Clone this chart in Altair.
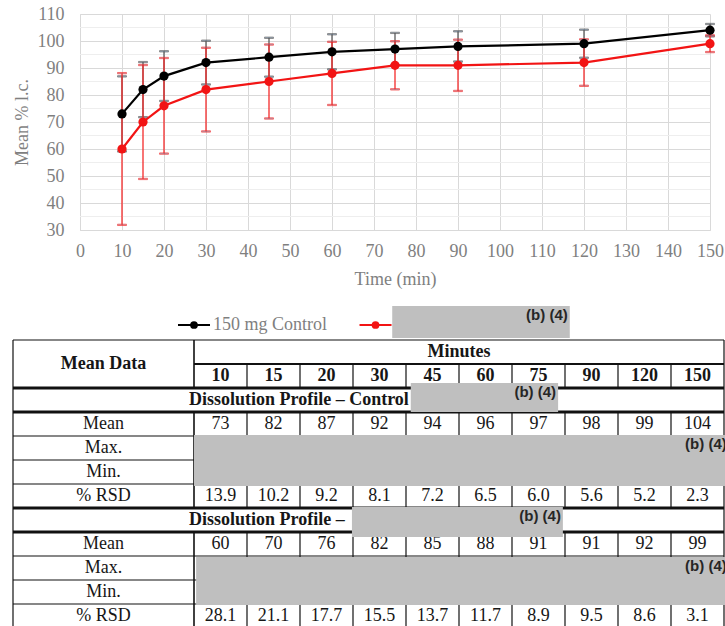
import altair as alt
import pandas as pd

# ---- data -------------------------------------------------------------
times = [10, 15, 20, 30, 45, 60, 75, 90, 120, 150]
series_names = ["150 mg Control", "150 mg Test"]

control_mean = [73, 82, 87, 92, 94, 96, 97, 98, 99, 104]
control_rsd = [13.9, 10.2, 9.2, 8.1, 7.2, 6.5, 6.0, 5.6, 5.2, 2.3]
test_mean = [60, 70, 76, 82, 85, 88, 91, 91, 92, 99]
test_rsd = [28.1, 21.1, 17.7, 15.5, 13.7, 11.7, 8.9, 9.5, 8.6, 3.1]

x_ticks = list(range(0, 151, 10))
y_ticks = list(range(30, 111, 10))
y_minor_ticks = list(range(35, 110, 10))

row_labels = ["Mean", "Max.", "Min.", "% RSD"]
table_title = "Mean Data"
minutes_title = "Minutes"
section_titles = ["Dissolution Profile \u2013 Control", "Dissolution Profile \u2013"]
redaction_note = "(b) (4)"

# ---- styling ----------------------------------------------------------
LINE_COLORS = ["#000000", "#f21414"]
BAR_COLORS = ["#5a5a5a", "#f42a2a"]
GRID = "#d9d9d9"
GRID_MINOR = "#eeeeee"
AXIS_TEXT = "#7f7f7f"
TABLE_TEXT = "#161616"
REDACT = "#bfbfbf"
SERIF = "Liberation Serif"
SANS = "Liberation Sans"

profile = pd.DataFrame({
    "time": times * 2,
    "mean": control_mean + test_mean,
    "rsd": control_rsd + test_rsd,
    "series": [series_names[0]] * len(times) + [series_names[1]] * len(times),
})

# ---- dissolution plot -------------------------------------------------
x_axis = alt.Axis(values=x_ticks, title="Time (min)", grid=True, gridColor=GRID,
                  domainColor=GRID, ticks=False, tickSize=0, labelFont=SERIF,
                  labelFontSize=18, labelColor=AXIS_TEXT, labelPadding=12,
                  labelOverlap=False, labelFlush=False, titleFont=SERIF,
                  titleFontSize=18, titleFontWeight="normal", titleColor=AXIS_TEXT,
                  titlePadding=10)
y_axis = alt.Axis(values=y_ticks, title="Mean % l.c.", grid=True, gridColor=GRID,
                  domainColor=GRID, ticks=False, tickSize=0, labelFont=SERIF,
                  labelFontSize=18, labelColor=AXIS_TEXT, labelPadding=16,
                  labelOverlap=False, labelFlush=False, titleFont=SERIF,
                  titleFontSize=18, titleFontWeight="normal", titleColor=AXIS_TEXT,
                  titlePadding=6)


def xq(field):
    return alt.X(field, type="quantitative", axis=x_axis,
                 scale=alt.Scale(domain=[0, 150], nice=False, zero=False))


def yq(field):
    return alt.Y(field, type="quantitative", axis=y_axis,
                 scale=alt.Scale(domain=[30, 110], nice=False, zero=False))


ser_scale = alt.Scale(domain=series_names, range=LINE_COLORS)
bar_scale = alt.Scale(domain=series_names, range=BAR_COLORS)
series_color = alt.Color("series:N", scale=ser_scale, legend=None)

plot_layers = [
    alt.Chart(pd.DataFrame({"level": y_minor_ticks}))
    .mark_rule(color=GRID_MINOR, strokeWidth=1)
    .encode(y=yq("level"))
]

# error bars: mean +/- %RSD
for name in series_names:
    bars = (alt.Chart(profile)
            .transform_filter(alt.datum.series == name)
            .transform_calculate(lo="datum.mean - datum.rsd", hi="datum.mean + datum.rsd"))
    bar_color = alt.Stroke("series:N", scale=bar_scale, legend=None)
    plot_layers.append(bars.mark_rule(strokeWidth=1.3).encode(
        x=xq("time"), y=yq("lo"), y2=alt.Y2("hi"), stroke=bar_color))
    plot_layers.append(bars.transform_fold(["lo", "hi"], as_=["end", "cap"])
                       .mark_tick(orient="horizontal", size=9, thickness=1.3)
                       .encode(x=xq("time"), y=yq("cap"), stroke=bar_color))

# mean profiles, control drawn last
for name in reversed(series_names):
    prof = alt.Chart(profile).transform_filter(alt.datum.series == name)
    plot_layers.append(prof.mark_line(strokeWidth=2.2).encode(
        x=xq("time"), y=yq("mean"), color=series_color))
    plot_layers.append(prof.mark_circle(size=85, opacity=1).encode(
        x=xq("time"), y=yq("mean"), color=series_color))

plot = alt.layer(*plot_layers)

# ---- key and data table (below the plot, own scales) -------------------
N = len(times)
LABEL_COLS = 181 / 53          # label column width in value-column widths
N_ROWS = 12
col_scale = alt.Scale(domain=[0, N], range=[114, 644], nice=False, zero=False)
row_scale = alt.Scale(domain=[0, N_ROWS], range=[326, 614], nice=False, zero=False)


def tx(field):
    return alt.X(field, type="quantitative", scale=col_scale, axis=None)


def ty(field):
    return alt.Y(field, type="quantitative", scale=row_scale, axis=None)


# series key: line-and-dot glyph followed by the series name
key = pd.DataFrame({"series": series_names, "c": [0.0, 3.425], "r": [-0.625, -0.625]})
key_base = alt.Chart(key).transform_calculate(
    c0="datum.c - 0.302", c1="datum.c + 0.302", ct="datum.c + 0.36")
key_layers = [
    key_base.mark_rule(strokeWidth=2.2).encode(
        x=tx("c0"), x2=alt.X2("c1"), y=ty("r"), color=series_color),
    key_base.mark_circle(size=60, opacity=1).encode(
        x=tx("c"), y=ty("r"), color=series_color),
    key_base.mark_text(font=SERIF, fontSize=18, color=AXIS_TEXT, align="left",
                       baseline="middle").encode(
        x=tx("ct"), y=ty("r"), text="series:N"),
]

# horizontal rules (heavier under headers and section rows)
h_lines = pd.DataFrame([
    {"c": 0 if r == 1 else -LABEL_COLS, "c2": N, "r": r,
     "w": 3 if r in (2, 3, 7, 8) else (2 if r == 1 else 1.2)}
    for r in range(N_ROWS + 1)
])

# vertical rules
v_rows = [{"c": -LABEL_COLS, "r": 0, "r2": N_ROWS, "w": 1.2},
          {"c": N, "r": 0, "r2": N_ROWS, "w": 1.2}]
for i in range(N):
    spans = [(0, 2), (3, 7), (8, 12)] if i == 0 else [(1, 2), (3, 7), (8, 12)]
    for a, b in spans:
        v_rows.append({"c": i, "r": a, "r2": b, "w": 1.6 if i == 0 else 1.2})
v_lines = pd.DataFrame(v_rows)

header_cells = pd.DataFrame(
    [{"c": -LABEL_COLS / 2, "r": 1.0, "t": table_title},
     {"c": N / 2, "r": 0.5, "t": minutes_title}]
    + [{"c": i + 0.5, "r": 1.5, "t": str(t)} for i, t in enumerate(times)]
)
section_cells = pd.DataFrame([{"c": 0, "r": 2.5, "t": section_titles[0]},
                              {"c": 0, "r": 7.5, "t": section_titles[1]}])

body = []
for start, means, rsds in [(3, control_mean, control_rsd), (8, test_mean, test_rsd)]:
    for k, lab in enumerate(row_labels):
        body.append({"c": -LABEL_COLS / 2, "r": start + k + 0.5, "t": lab})
    for i in range(N):
        body.append({"c": i + 0.5, "r": start + 0.5, "t": str(means[i])})
        body.append({"c": i + 0.5, "r": start + 3.5, "t": f"{rsds[i]:.1f}"})
body_cells = pd.DataFrame(body)

# redacted regions, in table cell units
redactions = pd.DataFrame([
    {"c": 3.74, "c2": 7.09, "r": -1.42, "r2": -0.08},
    {"c": 4.09, "c2": 6.87, "r": 1.79, "r2": 3.0},
    {"c": 0.0, "c2": 10.09, "r": 3.96, "r2": 6.08},
    {"c": 2.98, "c2": 6.96, "r": 6.96, "r2": 8.21},
    {"c": 0.04, "c2": 10.09, "r": 9.04, "r2": 11.04},
])
redactions["t"] = redaction_note

table = alt.layer(
    *key_layers,
    alt.Chart(h_lines).mark_rule(color="#111111").encode(
        x=tx("c"), x2=alt.X2("c2"), y=ty("r"),
        strokeWidth=alt.StrokeWidth("w:Q", scale=None)),
    alt.Chart(v_lines).mark_rule(color="#111111").encode(
        x=tx("c"), y=ty("r"), y2=alt.Y2("r2"),
        strokeWidth=alt.StrokeWidth("w:Q", scale=None)),
    alt.Chart(header_cells).mark_text(font=SERIF, fontSize=18, fontWeight="bold",
                                      color=TABLE_TEXT, baseline="middle").encode(
        x=tx("c"), y=ty("r"), text="t:N"),
    alt.Chart(section_cells).mark_text(font=SERIF, fontSize=18, fontWeight="bold",
                                       color=TABLE_TEXT, baseline="middle",
                                       align="left", dx=-5).encode(
        x=tx("c"), y=ty("r"), text="t:N"),
    alt.Chart(body_cells).mark_text(font=SERIF, fontSize=18, color=TABLE_TEXT,
                                    baseline="middle").encode(
        x=tx("c"), y=ty("r"), text="t:N"),
    alt.Chart(redactions).mark_rect(color=REDACT).encode(
        x=tx("c"), x2=alt.X2("c2"), y=ty("r"), y2=alt.Y2("r2")),
    alt.Chart(redactions).mark_text(font=SANS, fontSize=15, fontWeight="bold",
                                    color="#262626", align="right", baseline="top",
                                    dx=-2, dy=2).encode(
        x=tx("c2"), y=ty("r"), text="t:N"),
)

chart = (
    alt.layer(plot, table)
    .resolve_scale(x="independent", y="independent")
    .properties(width=630, height=216,
                padding={"left": 80, "top": 14, "right": 15, "bottom": 396},
                autosize=alt.AutoSizeParams(type="none"), background="white")
    .configure_view(stroke=None)
)

chart.save("out.html", embed_options={"renderer": "svg", "actions": False})
